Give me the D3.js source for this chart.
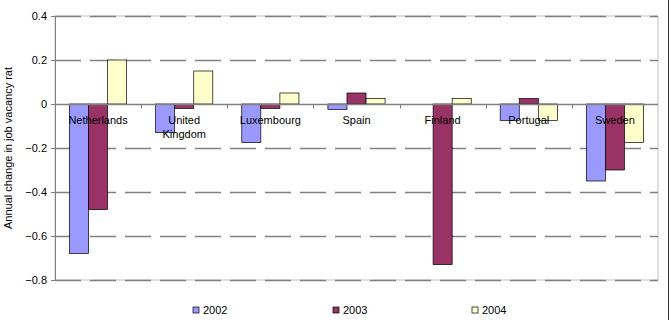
<!DOCTYPE html>
<html>
<head>
<meta charset="utf-8">
<script src="https://d3js.org/d3.v7.min.js"></script>
<style>
  body { margin: 0; background: #fff; font-family: "Liberation Sans", Arial, sans-serif; }
</style>
</head>
<body>
<div id="chart"></div>
<script>
const countries = ["Netherlands", "United Kingdom", "Luxembourg", "Spain", "Finland", "Portugal", "Sweden"]
const years = ["2002", "2003", "2004"]
const v2002 = [-0.68, -0.13, -0.175, -0.025, 0, -0.075, -0.35]
const v2003 = [-0.48, -0.02, -0.02, 0.05, -0.73, 0.025, -0.3]
const v2004 = [0.2, 0.15, 0.05, 0.025, 0.025, -0.075, -0.175]
const yTicks = [0.4, 0.2, 0, -0.2, -0.4, -0.6, -0.8]
const colors = ["#9999ff", "#993366", "#ffffcc"]

const series = [v2002, v2003, v2004]
const w = 670, h = 320
const margin = { top: 16, right: 12, bottom: 40, left: 55 }

const svg = d3.select("#chart").append("svg").attr("width", w).attr("height", h)

const x0 = d3.scaleBand().domain(countries).range([margin.left, w - margin.right]).paddingInner(0).paddingOuter(0)
const x1 = d3.scaleBand().domain(years).range([0, x0.bandwidth()]).paddingInner(0).paddingOuter(0.76)
const y = d3.scaleLinear().domain([-0.8, 0.4]).range([h - margin.bottom, margin.top])

// plot border (light)
svg.append("rect")
    .attr("x", margin.left).attr("y", margin.top)
    .attr("width", w - margin.right - margin.left).attr("height", y(-0.8) - margin.top)
    .style("fill", "none").style("stroke", "#c0c0c0").style("stroke-width", 1)

// dashed grid
svg.append("g").selectAll("line")
    .data(yTicks.filter(d => d !== 0))
    .enter().append("line")
    .attr("x1", margin.left).attr("x2", w - margin.right)
    .attr("y1", d => Math.round(y(d)) + 0.5).attr("y2", d => Math.round(y(d)) + 0.5)
    .style("stroke", "#808080").style("stroke-width", 1.3)
    .style("stroke-dasharray", "26,9")

// bars
const groups = svg.append("g").selectAll("g")
    .data(countries)
    .enter().append("g")
    .attr("transform", d => "translate(" + x0(d) + ",0)")

groups.selectAll("rect")
    .data((c, i) => years.map((yr, j) => ({ yr: yr, v: series[j][i], c: colors[j] })))
    .enter().append("rect")
    .filter(d => d.v !== 0)
    .attr("x", d => x1(d.yr))
    .attr("width", x1.bandwidth())
    .attr("y", d => y(Math.max(0, d.v)))
    .attr("height", d => Math.abs(y(d.v) - y(0)))
    .style("fill", d => d.c)
    .style("stroke", "#000").style("stroke-width", 0.7)

// y axis
const yAxis = d3.axisLeft(y).tickValues(yTicks).tickSize(4).tickPadding(4)
    .tickFormat(d => d === 0 ? "0" : d3.format(".1f")(d))
const gy = svg.append("g").attr("transform", "translate(" + margin.left + ",0)").call(yAxis)
gy.select(".domain").style("stroke", "#808080")
gy.selectAll(".tick line").style("stroke", "#808080")
gy.selectAll("text").style("font-size", "11px").style("font-family", "Liberation Sans, Arial, sans-serif").style("fill", "#000")

// zero line with category ticks
const zy = Math.round(y(0)) + 0.5
svg.append("line").attr("x1", margin.left).attr("x2", w - margin.right)
    .attr("y1", zy).attr("y2", zy).style("stroke", "#808080").style("stroke-width", 1.3)
svg.append("g").selectAll("line")
    .data(countries.slice(1))
    .enter().append("line")
    .attr("x1", d => Math.round(x0(d)) + 0.5).attr("x2", d => Math.round(x0(d)) + 0.5)
    .attr("y1", zy).attr("y2", zy + 4)
    .style("stroke", "#808080")

// category labels
const labels = svg.append("g").selectAll("text")
    .data(countries)
    .enter().append("text")
    .attr("x", d => x0(d) + x0.bandwidth() / 2)
    .attr("y", y(0) + 20)
    .attr("text-anchor", "middle")
    .style("font-size", "11px")
    .style("fill", "#000")
labels.each(function (d) {
    const parts = d === "United Kingdom" ? ["United", "Kingdom"] : [d]
    const t = d3.select(this)
    parts.forEach((p, i) => {
        t.append("tspan").attr("x", x0(d) + x0.bandwidth() / 2).attr("dy", i === 0 ? 0 : 14).text(p)
    })
})

// y axis title
svg.append("text")
    .attr("transform", "translate(12," + y(-0.2) + ") rotate(-90)")
    .attr("text-anchor", "middle")
    .style("font-size", "11px")
    .text("Annual change in job vacancy rat")

// legend
const legX = [193, 333, 472]
const leg = svg.append("g").selectAll("g")
    .data(years)
    .enter().append("g")
    .attr("transform", (d, i) => "translate(" + legX[i] + ",307)")
leg.append("rect").attr("width", 6).attr("height", 6)
    .style("fill", (d, i) => colors[i]).style("stroke", "#000").style("stroke-width", 0.7)
leg.append("text").attr("x", 10).attr("y", 7).style("font-size", "11px").text(d => d)

// chart frame right edge
svg.append("line").attr("x1", 668.5).attr("x2", 668.5).attr("y1", 0).attr("y2", h)
    .style("stroke", "#333").style("stroke-width", 1)
</script>
</body>
</html>
